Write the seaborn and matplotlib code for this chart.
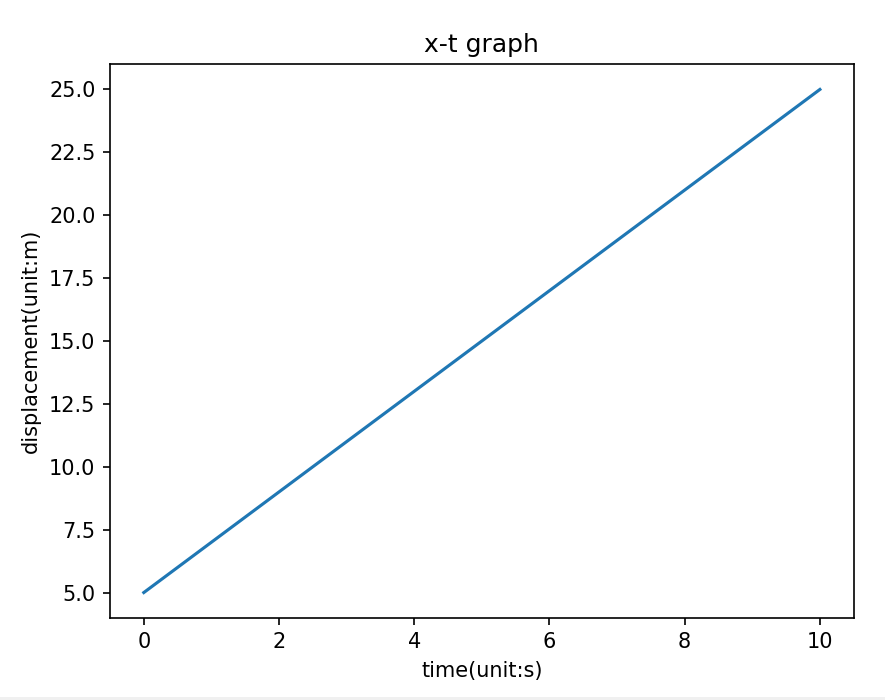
"""x-t graph: displacement against time, single line."""

import pandas as pd
import seaborn as sns
import matplotlib

matplotlib.use("Agg")
import matplotlib.pyplot as plt
from matplotlib.patches import Rectangle


# time (s) and displacement (m)
time_s = [0, 1, 2, 3, 4, 5, 6, 7, 8, 9, 10]
displacement_m = [5, 7, 9, 11, 13, 15, 17, 19, 21, 23, 25]

df = pd.DataFrame({"time": time_s, "displacement": displacement_m})

fig = plt.figure(figsize=(885 / 150, 700 / 150), dpi=150)
ax = fig.add_axes([110 / 885, 1 - 617.7 / 700, 743.7 / 885, 553.4 / 700])

sns.lineplot(data=df, x="time", y="displacement", ax=ax, color="#1f77b4")

ax.set_title("x-t graph")
ax.set_xlabel("time(unit:s)")
ax.set_ylabel("displacement(unit:m)")

# thin grey strip along the bottom edge of the screenshot
fig.patches.append(
    Rectangle((0, 0), 1, 3.3 / 700, transform=fig.transFigure,
              facecolor="#f0f0f0", edgecolor="none", zorder=-1)
)

fig.savefig("out.png", dpi=150)
